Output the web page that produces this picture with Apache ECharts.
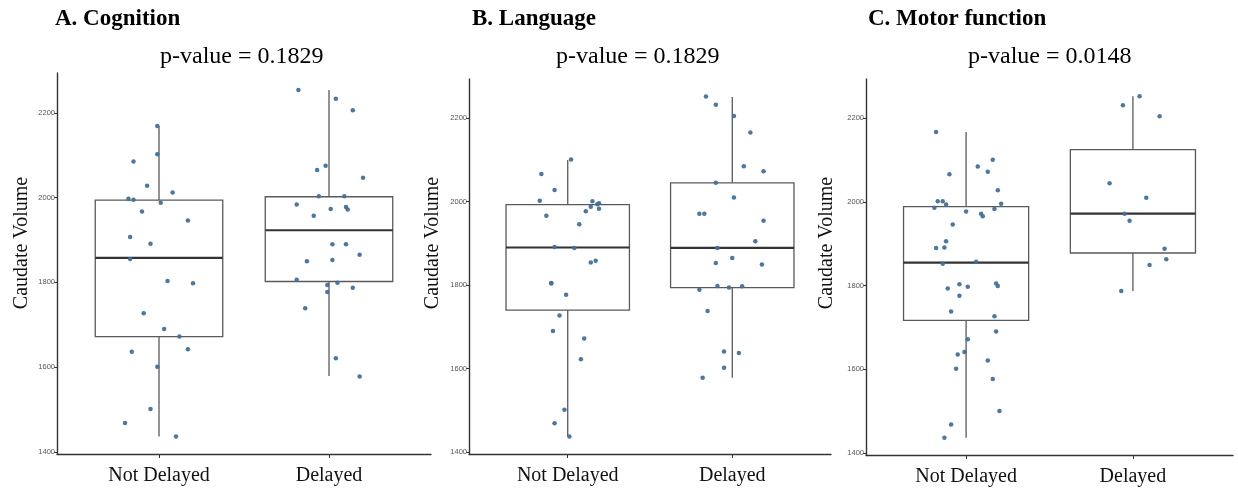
<!DOCTYPE html>
<html>
<head>
<meta charset="utf-8">
<script src="https://cdn.jsdelivr.net/npm/echarts@6.0.0/dist/echarts.min.js"></script>
<style>
  html, body { margin: 0; padding: 0; background: #fff; }
  #main { width: 1238px; height: 492px; }
</style>
</head>
<body>
<div id="main"></div>
<script>
// categories and tick labels
var groups = ['Not Delayed', 'Delayed'];
var yTicks = [1400, 1600, 1800, 2000, 2200];
var panelTitles = ['A. Cognition', 'B. Language', 'C. Motor function'];
var pValues = ['0.1829', '0.1829', '0.0148'];

// box stats: [min, q1, median, q3, max]
var cogBoxND = [1436, 1672, 1858, 1994, 2169];
var cogBoxD = [1579, 1802, 1923, 2002, 2254];
var langBoxND = [1437, 1740, 1890, 1993, 2100];
var langBoxD = [1578, 1794, 1889, 2045, 2251];
var motorBoxND = [1436, 1717, 1855, 1989, 2167];
var motorBoxD = [1787, 1878, 1972, 2125, 2253];

// individual points (caudate volume) and their horizontal jitter (category units)
var cogND = [2169, 2102, 2085, 2028, 2012, 1997, 1995, 1988, 1967, 1946, 1907, 1891,
    1855, 1803, 1798, 1727, 1690, 1672, 1642, 1636, 1601, 1501, 1468, 1436];
var cogNDJit = [-0.01, -0.01, -0.15, -0.07, 0.08, -0.18, -0.15, 0.01, -0.10, 0.17, -0.17, -0.05,
    -0.17, 0.05, 0.20, -0.09, 0.03, 0.12, 0.17, -0.16, -0.01, -0.05, -0.20, 0.10];
var cogD = [2254, 2233, 2206, 2075, 2065, 2047, 2003, 2003, 1984, 1978, 1973, 1972, 1957,
    1890, 1890, 1865, 1853, 1850, 1806, 1799, 1794, 1787, 1777, 1739, 1621, 1578];
var cogDJit = [-0.18, 0.04, 0.14, -0.02, -0.07, 0.20, -0.06, 0.09, -0.19, 0.10, 0.01, 0.11, -0.09,
    0.02, 0.10, 0.18, 0.02, -0.13, -0.19, 0.05, -0.01, 0.14, -0.01, -0.14, 0.04, 0.18];

var langND = [2101, 2066, 2028, 2002, 2001, 1996, 1994, 1988, 1983, 1977, 1966, 1946, 1891,
    1889, 1858, 1854, 1805, 1804, 1777, 1727, 1690, 1672, 1622, 1501, 1469, 1437];
var langNDJit = [0.02, -0.16, -0.08, -0.17, 0.15, 0.19, 0.18, 0.14, 0.19, 0.11, -0.13, 0.07, -0.08,
    0.04, 0.17, 0.14, -0.10, -0.10, -0.01, -0.05, -0.09, 0.10, 0.08, -0.02, -0.08, 0.01];
var langD = [2252, 2232, 2205, 2166, 2085, 2073, 2045, 2010, 1971, 1971, 1954, 1905, 1889,
    1865, 1853, 1849, 1798, 1797, 1794, 1789, 1738, 1641, 1637, 1602, 1578];
var langDJit = [-0.16, -0.10, 0.01, 0.11, 0.07, 0.19, -0.10, 0.01, -0.20, -0.17, 0.19, 0.14, -0.09,
    0.00, -0.10, 0.18, -0.09, 0.06, -0.02, -0.20, -0.15, -0.05, 0.04, -0.05, -0.18];

var motorND = [2167, 2101, 2085, 2072, 2066, 2028, 2002, 2002, 1996, 1994, 1986, 1983, 1977,
    1972, 1966, 1946, 1906, 1891, 1890, 1857, 1852, 1805, 1803, 1799, 1797, 1793, 1776, 1738,
    1727, 1690, 1672, 1641, 1635, 1621, 1601, 1577, 1500, 1468, 1436];
var motorNDJit = [-0.18, 0.16, 0.07, 0.13, -0.10, 0.19, -0.17, -0.14, 0.21, -0.12, -0.19, 0.17, 0.00,
    0.09, 0.10, -0.08, -0.12, -0.13, -0.18, 0.06, -0.14, 0.18, -0.04, 0.19, 0.01, -0.11, -0.04, -0.09,
    0.17, 0.18, 0.01, -0.01, -0.05, 0.13, -0.06, 0.16, 0.20, -0.09, -0.13];
var motorD = [2253, 2231, 2205, 2045, 2010, 1972, 1955, 1888, 1863, 1849, 1787];
var motorDJit = [0.04, -0.06, 0.16, -0.14, 0.08, -0.05, -0.02, 0.19, 0.20, 0.10, -0.07];

var serif = '"Liberation Serif", "Times New Roman", serif';
var sans = '"Liberation Sans", Arial, sans-serif';
var boxWidth = 0.75;

var panels = [
    { grid: { left: 57, width: 374, top: 73, height: 381 }, nd: cogND, ndJit: cogNDJit, d: cogD, dJit: cogDJit, boxND: cogBoxND, boxD: cogBoxD,
      titleX: 55, pX: 160, nameX: 22 },
    { grid: { left: 469, width: 362, top: 79, height: 375 }, nd: langND, ndJit: langNDJit, d: langD, dJit: langDJit, boxND: langBoxND, boxD: langBoxD,
      titleX: 472, pX: 556, nameX: 433 },
    { grid: { left: 866, width: 367, top: 79, height: 376 }, nd: motorND, ndJit: motorNDJit, d: motorD, dJit: motorDJit, boxND: motorBoxND, boxD: motorBoxD,
      titleX: 868, pX: 968, nameX: 827 }
];

function renderBox(params, api) {
    var x = api.value(0);
    var pMin = api.coord([x, api.value(1)]);
    var pQ1 = api.coord([x, api.value(2)]);
    var pMed = api.coord([x, api.value(3)]);
    var pQ3 = api.coord([x, api.value(4)]);
    var pMax = api.coord([x, api.value(5)]);
    var half = api.size([boxWidth, 0])[0] / 2;
    var lineStyle = { stroke: '#5a5a5a', lineWidth: 1.3, fill: null };
    return {
        type: 'group',
        children: [
            { type: 'line', shape: { x1: pMax[0], y1: pMax[1], x2: pQ3[0], y2: pQ3[1] }, style: lineStyle },
            { type: 'line', shape: { x1: pQ1[0], y1: pQ1[1], x2: pMin[0], y2: pMin[1] }, style: lineStyle },
            { type: 'rect', shape: { x: pQ3[0] - half, y: pQ3[1], width: half * 2, height: pQ1[1] - pQ3[1] },
              style: { stroke: '#5a5a5a', lineWidth: 1.3, fill: '#fff' } },
            { type: 'line', shape: { x1: pMed[0] - half, y1: pMed[1], x2: pMed[0] + half, y2: pMed[1] },
              style: { stroke: '#333', lineWidth: 2.2 } }
        ]
    };
}

var grids = [], xAxes = [], yAxes = [], series = [], titles = [], graphics = [];

panels.forEach(function (p, i) {
    grids.push(p.grid);
    xAxes.push({
        gridIndex: i, type: 'value', min: 0.4, max: 2.6,
        splitLine: { show: false },
        axisLine: { show: true, lineStyle: { color: '#333', width: 1.4 } },
        axisTick: { show: true, length: 4, customValues: [1, 2], lineStyle: { color: '#333', width: 1 } },
        axisLabel: {
            customValues: [1, 2], margin: 12, color: '#111', fontFamily: serif, fontSize: 20,
            formatter: function (v) { return groups[Math.round(v) - 1]; }
        }
    });
    yAxes.push({
        gridIndex: i, type: 'value', min: 1395, max: 2294,
        splitLine: { show: false },
        axisLine: { show: true, lineStyle: { color: '#333', width: 1.4 } },
        axisTick: { show: true, length: 3, customValues: yTicks, lineStyle: { color: '#333', width: 1 } },
        axisLabel: {
            customValues: yTicks, margin: 2, color: '#555', fontFamily: sans, fontSize: 7.5,
            formatter: function (v) { return String(v); }
        }
    });
    series.push({
        type: 'custom', xAxisIndex: i, yAxisIndex: i, renderItem: renderBox, z: 2,
        data: [[1].concat(p.boxND), [2].concat(p.boxD)]
    });
    series.push({
        type: 'scatter', xAxisIndex: i, yAxisIndex: i, z: 3,
        symbol: 'circle', symbolSize: 4.5,
        itemStyle: { color: '#41709c', opacity: 0.95 },
        data: p.nd.map(function (v, k) { return [1 + p.ndJit[k], v]; })
            .concat(p.d.map(function (v, k) { return [2 + p.dJit[k], v]; }))
    });
    titles.push({
        text: panelTitles[i], left: p.titleX, top: 8, padding: 0,
        textStyle: { fontFamily: serif, fontWeight: 'bold', fontSize: 23, color: '#000' }
    });
    titles.push({
        text: 'p-value = ' + pValues[i], left: p.pX, top: 45, padding: 0,
        textStyle: { fontFamily: serif, fontWeight: 'normal', fontSize: 24, color: '#000' }
    });
    graphics.push({
        type: 'text', x: p.nameX, y: 243, rotation: Math.PI / 2,
        style: { text: 'Caudate Volume', font: '20px ' + serif, fill: '#111', align: 'center', verticalAlign: 'middle' }
    });
});

var chart = echarts.init(document.getElementById('main'));
chart.setOption({
    animation: false,
    backgroundColor: '#fff',
    title: titles,
    grid: grids,
    xAxis: xAxes,
    yAxis: yAxes,
    series: series,
    graphic: graphics
});
</script>
</body>
</html>
